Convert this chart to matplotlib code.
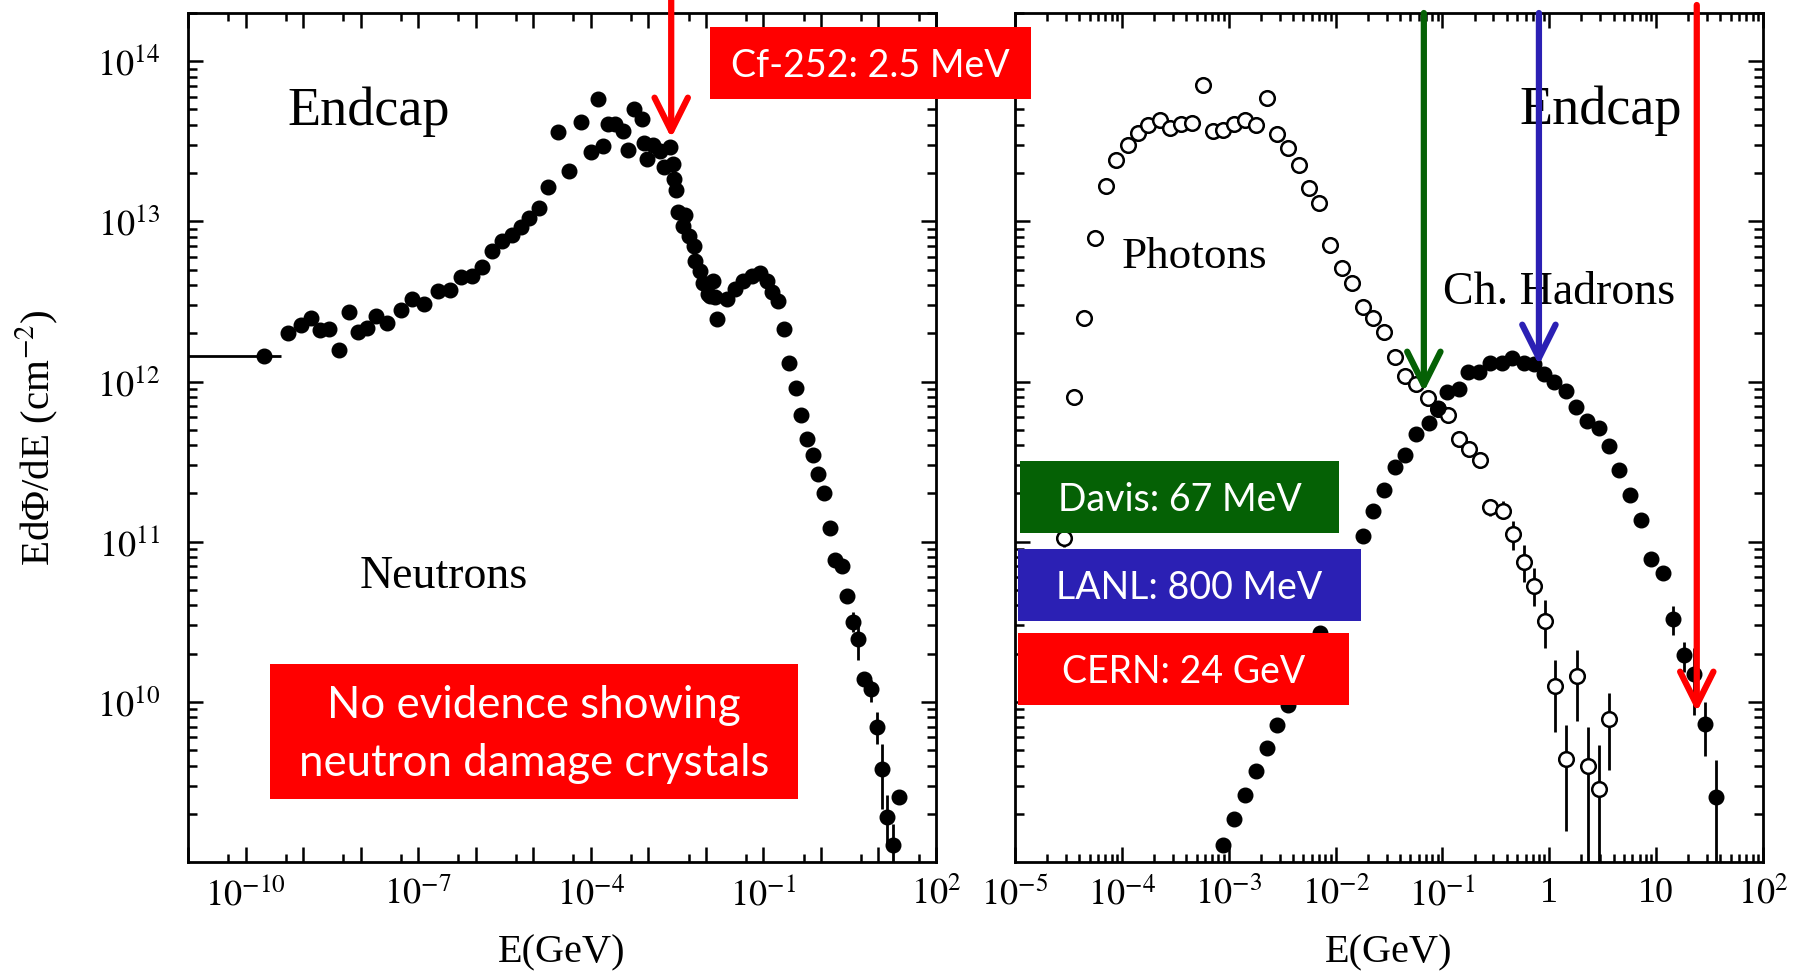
import numpy as np
import matplotlib
matplotlib.use("Agg")
import matplotlib.pyplot as plt
import matplotlib.transforms as mtransforms
from matplotlib.patches import Rectangle, FancyArrowPatch
from matplotlib.ticker import FixedLocator, FuncFormatter, NullFormatter

plt.rcParams['font.family'] = ['Liberation Serif', 'DejaVu Serif']
plt.rcParams['mathtext.fontset'] = 'stix'

W, H = 1806, 975

# ---- neutron spectrum, E in GeV, E dPhi/dE in cm^-2 ----
thermal_e, thermal_e_lo, thermal_e_hi, thermal_flux = 2.1e-10, 1e-11, 4.1e-10, 1.45e12

neutron_e = [5.4e-10, 9.1e-10, 1.37e-9, 1.97e-9, 2.86e-9, 4.21e-9, 6.21e-9, 9.12e-9,
             1.27e-8, 1.85e-8, 2.83e-8, 4.95e-8, 7.91e-8, 1.28e-7, 2.23e-7, 3.57e-7,
             5.55e-7, 8.51e-7, 1.30e-6, 1.90e-6, 2.83e-6, 4.23e-6, 6.12e-6, 8.55e-6,
             1.28e-5, 1.83e-5, 2.67e-5, 4.19e-5, 6.76e-5, 1.01e-4, 1.35e-4, 1.65e-4,
             1.97e-4, 2.64e-4, 3.67e-4, 4.38e-4, 5.70e-4, 7.85e-4, 8.51e-4, 9.35e-4,
             1.22e-3, 1.59e-3, 1.87e-3, 2.38e-3, 2.72e-3, 2.75e-3, 3.03e-3, 3.32e-3,
             4.06e-3, 4.34e-3, 5.15e-3, 6.22e-3, 6.47e-3, 7.91e-3, 8.79e-3, 1.10e-2,
             1.18e-2, 1.35e-2, 1.44e-2, 1.58e-2, 2.30e-2, 3.21e-2, 4.48e-2, 6.25e-2,
             8.73e-2, 0.114, 0.139, 0.182, 0.228, 0.279, 0.364, 0.445, 0.565, 0.738,
             0.879, 1.13, 1.44, 1.78, 2.30, 2.87]
neutron_flux = [2.00e12, 2.25e12, 2.49e12, 2.09e12, 2.14e12, 1.58e12, 2.72e12, 2.04e12,
                2.17e12, 2.56e12, 2.33e12, 2.81e12, 3.28e12, 3.04e12, 3.65e12, 3.72e12,
                4.51e12, 4.57e12, 5.21e12, 6.56e12, 7.57e12, 8.26e12, 9.18e12, 1.05e13,
                1.21e13, 1.63e13, 3.61e13, 2.06e13, 4.20e13, 2.72e13, 5.78e13, 2.95e13,
                4.07e13, 4.07e13, 3.66e13, 2.81e13, 5.06e13, 4.34e13, 3.10e13, 2.46e13,
                2.98e13, 2.77e13, 2.18e13, 2.91e13, 2.29e13, 1.85e13, 1.57e13, 1.14e13,
                9.40e12, 1.09e13, 8.15e12, 7.05e12, 5.68e12, 4.92e12, 4.15e12, 3.52e12,
                3.43e12, 4.26e12, 3.35e12, 2.45e12, 3.27e12, 3.78e12, 4.26e12, 4.57e12,
                4.73e12, 4.26e12, 3.60e12, 3.16e12, 2.12e12, 1.31e12, 9.14e11, 6.17e11,
                4.35e11, 3.50e11, 2.65e11, 2.01e11, 1.22e11, 7.71e10, 7.00e10, 4.59e10]

neutron_tail_e = [3.56, 4.46, 5.60, 7.31, 9.29, 11.4, 14.2, 18.0, 23.0]
neutron_tail_flux = [3.17e10, 2.47e10, 1.38e10, 1.21e10, 6.97e9, 3.83e9, 1.91e9, 1.27e9, 2.54e9]
neutron_tail_lo = [2.74e10, 1.82e10, 1.30e10, 1.00e10, 5.48e9, 2.15e9, 1.24e9, 9.95e8, 2.54e9]
neutron_tail_hi = [3.66e10, 3.17e10, 1.45e10, 1.37e10, 8.65e9, 5.48e9, 2.61e9, 1.73e9, 2.54e9]

# ---- photon spectrum ----
photon_e = [3.55e-5, 4.46e-5, 5.65e-5, 7.11e-5, 8.83e-5, 1.15e-4, 1.43e-4, 1.77e-4,
            2.28e-4, 2.82e-4, 3.56e-4, 4.57e-4, 5.71e-4, 7.10e-4, 8.91e-4, 1.13e-3,
            1.43e-3, 1.79e-3, 2.28e-3, 2.86e-3, 3.55e-3, 4.50e-3, 5.66e-3, 7.02e-3,
            8.89e-3, 1.15e-2, 1.42e-2, 1.82e-2, 2.26e-2, 2.81e-2, 3.61e-2, 4.42e-2,
            5.69e-2, 7.26e-2, 9.08e-2, 0.112, 0.142, 0.178, 0.226]
photon_flux = [8.04e11, 2.51e12, 7.83e12, 1.67e13, 2.40e13, 2.98e13, 3.58e13, 3.97e13,
               4.28e13, 3.82e13, 4.04e13, 4.11e13, 7.14e13, 3.66e13, 3.70e13, 4.07e13,
               4.28e13, 3.97e13, 5.93e13, 3.49e13, 2.86e13, 2.26e13, 1.62e13, 1.30e13,
               7.13e12, 5.08e12, 4.15e12, 2.92e12, 2.49e12, 2.05e12, 1.42e12, 1.09e12,
               9.68e11, 7.85e11, 6.70e11, 6.17e11, 4.39e11, 3.77e11, 3.23e11]

photon_tail_e = [2.88e-5, 0.281, 0.366, 0.457, 0.574, 0.724, 0.904, 1.12, 1.43, 1.82,
                 2.29, 2.90, 3.65]
photon_tail_flux = [1.05e11, 1.64e11, 1.55e11, 1.11e11, 7.52e10, 5.32e10, 3.21e10, 1.25e10,
                    4.38e9, 1.44e10, 3.95e9, 2.86e9, 7.76e9]
photon_tail_lo = [9.3e10, 1.45e11, 1.39e11, 8.91e10, 5.64e10, 3.94e10, 2.16e10, 6.49e9,
                  1.57e9, 7.59e9, 5e8, 5e8, 3.73e9]
photon_tail_hi = [1.10e11, 1.70e11, 1.79e11, 1.34e11, 9.57e10, 6.84e10, 4.33e10, 1.82e10,
                  7.14e9, 2.10e10, 6.97e9, 5.36e9, 1.14e10]

# ---- charged hadron spectrum ----
hadron_e = [8.91e-4, 1.12e-3, 1.43e-3, 1.79e-3, 2.28e-3, 2.86e-3, 3.57e-3, 7.18e-3,
            1.80e-2, 2.26e-2, 2.81e-2, 3.61e-2, 4.49e-2, 5.69e-2, 7.41e-2, 9.08e-2,
            0.110, 0.142, 0.175, 0.218, 0.281, 0.361, 0.448, 0.575, 0.713, 0.885,
            1.11, 1.43, 1.78, 2.25, 2.90, 3.59, 4.52, 5.73, 7.23, 9.02, 11.5]
hadron_flux = [1.27e9, 1.85e9, 2.63e9, 3.70e9, 5.18e9, 7.14e9, 9.53e9, 2.68e10,
               1.08e11, 1.55e11, 2.11e11, 2.93e11, 3.50e11, 4.67e11, 5.52e11, 6.85e11,
               8.59e11, 8.93e11, 1.14e12, 1.14e12, 1.31e12, 1.31e12, 1.41e12, 1.31e12,
               1.28e12, 1.11e12, 9.98e11, 8.73e11, 6.97e11, 5.66e11, 5.14e11, 3.94e11,
               2.82e11, 1.97e11, 1.37e11, 7.78e10, 6.35e10]

hadron_tail_e = [14.4, 18.1, 22.5, 28.9, 36.4]
hadron_tail_flux = [3.27e10, 1.96e10, 1.49e10, 7.31e9, 2.54e9]
hadron_tail_lo = [2.62e10, 1.53e10, 8.26e9, 4.57e9, 5e8]
hadron_tail_hi = [3.94e10, 2.38e10, 2.16e10, 1.00e10, 4.32e9]

# ---- axes ticks ----
left_xticks = 10.0 ** np.arange(-11, 3)
left_xlabeled = [-10, -7, -4, -1, 2]
right_xticks = 10.0 ** np.arange(-5, 3)
yticks = [1e10, 1e11, 1e12, 1e13, 1e14]

# ---- irradiation facilities ----
beam_names = ['Cf-252: 2.5 MeV', 'Davis: 67 MeV', 'LANL: 800 MeV', 'CERN: 24 GeV']
beam_e = [2.5e-3, 0.067, 0.8, 24.0]
beam_colors = ['#ff0000', '#056105', '#2b20b4', '#ff0000']


def fx(px):
    return px / W


def fy(py):
    return 1 - py / H


def exp_label(v):
    return r'$10^{%d}$' % int(round(np.log10(v)))


fig = plt.figure(figsize=(W / 100, H / 100), dpi=100)
ax1 = fig.add_axes([fx(188), fy(862), (936 - 188) / W, (862 - 13) / H])
ax2 = fig.add_axes([fx(1015), fy(862), (1763 - 1015) / W, (862 - 13) / H])

ymin, ymax = 1e9, 2e14
minor_y = [k * 10.0 ** n for n in range(9, 15) for k in range(2, 10)]
ms = 10.5

for ax in (ax1, ax2):
    ax.set_xscale('log')
    ax.set_yscale('log')
    ax.set_ylim(ymin, ymax)
    for s in ax.spines.values():
        s.set_linewidth(2)
    ax.tick_params(which='both', direction='in', top=True, right=True, width=1.8,
                   labelsize=26)
    ax.tick_params(which='major', length=11)
    ax.tick_params(axis='x', which='major', pad=11)
    ax.tick_params(axis='y', which='major', pad=20)
    ax.tick_params(axis='y', which='minor', length=6.5)
    ax.tick_params(axis='x', which='minor', length=5.5)
    ax.yaxis.set_major_locator(FixedLocator(yticks))
    ax.yaxis.set_minor_locator(FixedLocator(minor_y))
    ax.yaxis.set_minor_formatter(NullFormatter())
    ax.set_xlabel('E(GeV)', fontsize=29)
    ax.xaxis.set_label_coords(0.5, -(934 - 862) / 849)

# left panel: neutrons
ax1.set_xlim(1e-11, 1e2)
ax1.xaxis.set_major_locator(FixedLocator(left_xticks))
ax1.xaxis.set_major_formatter(FuncFormatter(
    lambda v, pos: exp_label(v) if int(round(np.log10(v))) in left_xlabeled else ''))
ax1.xaxis.set_minor_locator(FixedLocator(5 * left_xticks[:-1]))
ax1.xaxis.set_minor_formatter(NullFormatter())
ax1.yaxis.set_major_formatter(FuncFormatter(lambda v, pos: exp_label(v)))
ax1.set_ylabel(r'EdΦ/dE (cm$^{-2}$)', fontsize=29.5)
ax1.yaxis.set_label_coords((60 - 188) / 748, 0.5)

ax1.errorbar([thermal_e], [thermal_flux],
             xerr=[[thermal_e - thermal_e_lo], [thermal_e_hi - thermal_e]],
             fmt='o', color='black', ms=ms, elinewidth=2, capsize=0)
ax1.plot(neutron_e, neutron_flux, 'o', color='black', ms=ms)
nt = np.array(neutron_tail_flux)
ax1.errorbar(neutron_tail_e, nt,
             yerr=[nt - np.array(neutron_tail_lo), np.array(neutron_tail_hi) - nt],
             fmt='o', color='black', ms=ms, elinewidth=2, capsize=0)

# right panel: photons and charged hadrons
ax2.set_xlim(1e-5, 1e2)
ax2.xaxis.set_major_locator(FixedLocator(right_xticks))
ax2.xaxis.set_major_formatter(FuncFormatter(
    lambda v, pos: {0: '1', 1: '10'}.get(int(round(np.log10(v))), exp_label(v))))
ax2.xaxis.set_minor_locator(FixedLocator(
    [k * t for t in right_xticks[:-1] for k in range(2, 10)]))
ax2.xaxis.set_minor_formatter(NullFormatter())
ax2.yaxis.set_major_formatter(NullFormatter())

ax2.plot(photon_e, photon_flux, 'o', mfc='white', mec='black', mew=1.8, ms=ms)
pt = np.array(photon_tail_flux)
ax2.errorbar(photon_tail_e, pt,
             yerr=[pt - np.array(photon_tail_lo), np.array(photon_tail_hi) - pt],
             fmt='o', mfc='white', mec='black', mew=1.8, ms=ms, ecolor='black',
             elinewidth=2, capsize=0)
ax2.plot(hadron_e, hadron_flux, 'o', color='black', ms=ms)
ht = np.array(hadron_tail_flux)
ax2.errorbar(hadron_tail_e, ht,
             yerr=[ht - np.array(hadron_tail_lo), np.array(hadron_tail_hi) - ht],
             fmt='o', color='black', ms=ms, elinewidth=2, capsize=0)

# species labels
fig.text(fx(287), fy(125), 'Endcap', fontsize=39, va='baseline')
fig.text(fx(1519), fy(124), 'Endcap', fontsize=39, va='baseline')
fig.text(fx(360), fy(588), 'Neutrons', fontsize=33, va='baseline')
fig.text(fx(1122), fy(268), 'Photons', fontsize=32.5, va='baseline')
fig.text(fx(1443), fy(304), 'Ch. Hadrons', fontsize=33, va='baseline')

# beam energy arrows: (axes, top pixel, tip pixel)
arrow_geom = [(ax1, 0, 138), (ax2, 13, 392), (ax2, 13, 365), (ax2, 5, 712)]
for (ax, top, tip), e, c in zip(arrow_geom, beam_e, beam_colors):
    tr = mtransforms.blended_transform_factory(ax.transData, fig.transFigure)
    fig.add_artist(FancyArrowPatch(
        (e, fy(top)), (e, fy(tip)), transform=tr,
        arrowstyle='->,head_length=2.4,head_width=1.2', mutation_scale=10,
        color=c, lw=4.5, shrinkA=0, shrinkB=0, zorder=5))

# facility boxes: (x0, y0, x1, y1, text baseline)
box_geom = [(710, 27, 1031, 99, 77), (1020, 461, 1339, 533, 511),
            (1018, 549, 1361, 621, 599), (1018, 633, 1349, 705, 683)]
for (x0, y0, x1, y1, base), name, c in zip(box_geom, beam_names, beam_colors):
    fig.add_artist(Rectangle((fx(x0), fy(y1)), (x1 - x0) / W, (y1 - y0) / H,
                             transform=fig.transFigure, facecolor=c,
                             edgecolor='none', zorder=4))
    fig.text(fx((x0 + x1) / 2), fy(base), name, family='Lato', fontsize=27,
             color='white', ha='center', va='baseline', zorder=6)

fig.add_artist(Rectangle((fx(270), fy(799)), (798 - 270) / W, (799 - 664) / H,
                         transform=fig.transFigure, facecolor='#ff0000',
                         edgecolor='none', zorder=4))
fig.text(fx(534), fy(718), 'No evidence showing', family='Lato', fontsize=31.5,
         color='white', ha='center', va='baseline', zorder=6)
fig.text(fx(534), fy(776), 'neutron damage crystals', family='Lato', fontsize=31.5,
         color='white', ha='center', va='baseline', zorder=6)

fig.savefig('out.png', dpi=100)
